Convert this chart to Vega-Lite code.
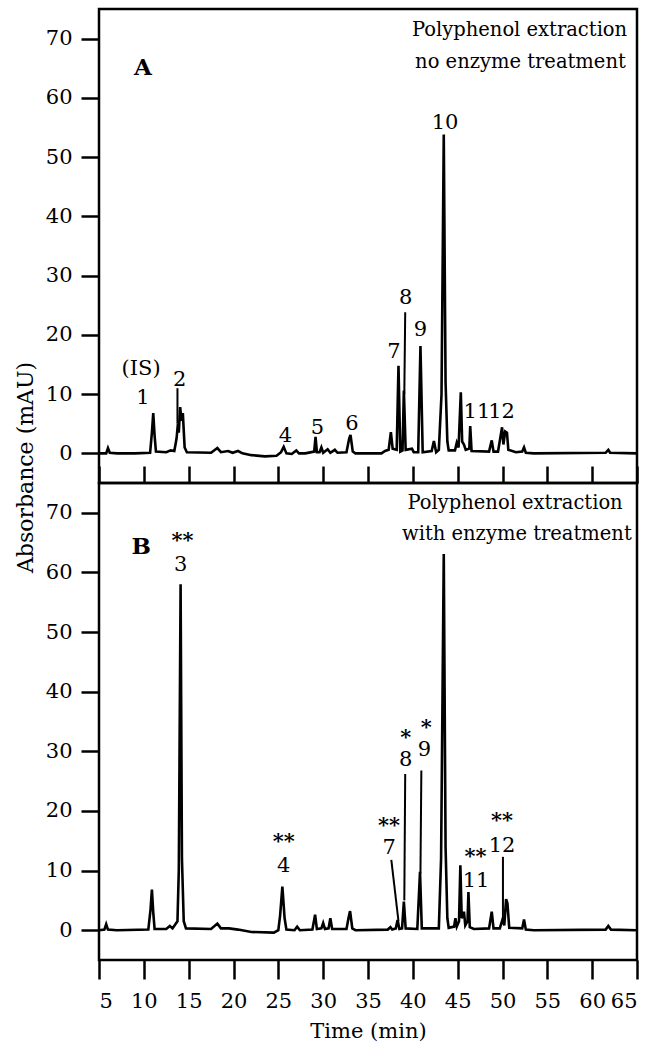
{
  "$schema": "https://vega.github.io/schema/vega-lite/v6.json",
  "padding": {"left": 12, "top": 7, "right": 5, "bottom": 5},
  "bounds": "flush",
  "spacing": 0,
  "config": {
    "font": "DejaVu Serif",
    "view": {"stroke": "black", "strokeWidth": 2.5},
    "text": {"font": "DejaVu Serif"},
    "axis": {"domain": false, "grid": false, "tickColor": "black", "tickWidth": 2.5, "labelColor": "black", "titleColor": "black", "labelFont": "DejaVu Serif", "titleFont": "DejaVu Serif", "labelFontSize": 21, "titleFontWeight": "normal"}
  },
  "datasets": {
    "traceA": [
      {"t":5.0,"v":0.0},{"t":5.8,"v":0.0},{"t":6.0,"v":0.9},{"t":6.2,"v":0.1},{"t":7.0,"v":0.0},{"t":9.0,"v":0.0},
      {"t":10.7,"v":0.1},{"t":10.9,"v":3.5},{"t":11.05,"v":6.8},{"t":11.2,"v":3.0},{"t":11.35,"v":0.3},{"t":12.5,"v":0.2},
      {"t":13.0,"v":0.5},{"t":13.4,"v":0.4},{"t":13.65,"v":2.5},{"t":13.8,"v":5.0},{"t":13.9,"v":3.5},{"t":14.05,"v":7.8},
      {"t":14.2,"v":5.5},{"t":14.35,"v":6.8},{"t":14.55,"v":1.0},{"t":14.8,"v":0.2},{"t":17.5,"v":0.1},{"t":18.2,"v":0.9},
      {"t":18.6,"v":0.2},{"t":19.4,"v":0.4},{"t":19.9,"v":0.1},{"t":20.5,"v":0.4},{"t":21.0,"v":0.0},{"t":22.0,"v":-0.3},
      {"t":23.5,"v":-0.5},{"t":24.8,"v":-0.4},{"t":25.3,"v":0.2},{"t":25.6,"v":1.1},{"t":25.9,"v":0.0},{"t":26.5,"v":-0.1},
      {"t":27.0,"v":0.5},{"t":27.3,"v":0.0},{"t":28.0,"v":0.0},{"t":29.0,"v":0.3},{"t":29.15,"v":2.8},{"t":29.3,"v":0.2},
      {"t":29.6,"v":0.2},{"t":29.8,"v":1.0},{"t":30.0,"v":0.1},{"t":30.5,"v":0.7},{"t":30.8,"v":0.1},{"t":31.3,"v":0.6},
      {"t":31.6,"v":0.1},{"t":32.6,"v":0.2},{"t":32.9,"v":2.5},{"t":33.05,"v":3.1},{"t":33.3,"v":0.3},{"t":33.6,"v":0.0},
      {"t":36.5,"v":0.0},{"t":36.9,"v":0.4},{"t":37.3,"v":0.6},{"t":37.55,"v":3.6},{"t":37.75,"v":0.8},{"t":38.2,"v":0.6},
      {"t":38.4,"v":14.8},{"t":38.6,"v":0.3},{"t":38.85,"v":0.5},{"t":39.0,"v":10.6},{"t":39.2,"v":0.6},{"t":39.9,"v":0.8},
      {"t":40.1,"v":0.2},{"t":40.6,"v":0.2},{"t":40.85,"v":18.1},{"t":41.1,"v":0.2},{"t":42.1,"v":0.4},{"t":42.35,"v":2.1},
      {"t":42.6,"v":0.2},{"t":42.9,"v":0.6},{"t":43.2,"v":10.0},{"t":43.45,"v":53.8},{"t":43.65,"v":12.0},{"t":43.85,"v":2.0},
      {"t":44.0,"v":0.5},{"t":44.7,"v":0.5},{"t":44.9,"v":1.8},{"t":45.1,"v":1.0},{"t":45.35,"v":10.3},{"t":45.5,"v":2.0},
      {"t":45.7,"v":1.5},{"t":45.9,"v":0.6},{"t":46.3,"v":0.8},{"t":46.4,"v":4.6},{"t":46.55,"v":0.4},{"t":48.5,"v":0.3},
      {"t":48.8,"v":2.2},{"t":49.0,"v":0.3},{"t":49.5,"v":0.3},{"t":49.95,"v":4.4},{"t":50.1,"v":1.5},{"t":50.3,"v":3.7},
      {"t":50.5,"v":3.5},{"t":50.65,"v":0.6},{"t":51.5,"v":0.2},{"t":52.2,"v":0.3},{"t":52.4,"v":1.0},{"t":52.6,"v":0.1},
      {"t":53.5,"v":0.0},{"t":61.5,"v":0.1},{"t":61.8,"v":0.6},{"t":62.0,"v":0.1},{"t":65.0,"v":0.0}
    ],
    "traceB": [
      {"t":5.0,"v":0.0},{"t":5.6,"v":0.1},{"t":5.8,"v":1.0},{"t":6.0,"v":0.1},{"t":7.0,"v":0.0},{"t":10.5,"v":0.1},
      {"t":10.75,"v":3.5},{"t":10.9,"v":6.8},{"t":11.05,"v":3.0},{"t":11.2,"v":0.2},{"t":12.5,"v":0.2},{"t":12.9,"v":0.7},
      {"t":13.2,"v":0.3},{"t":13.75,"v":1.5},{"t":13.9,"v":10.0},{"t":14.1,"v":58.0},{"t":14.25,"v":12.0},{"t":14.45,"v":1.5},
      {"t":14.7,"v":0.3},{"t":17.5,"v":0.2},{"t":18.2,"v":1.1},{"t":18.6,"v":0.3},{"t":19.5,"v":0.3},{"t":20.5,"v":0.1},
      {"t":22.0,"v":-0.3},{"t":24.5,"v":-0.4},{"t":25.0,"v":0.0},{"t":25.2,"v":2.5},{"t":25.45,"v":7.3},{"t":25.7,"v":2.0},
      {"t":25.9,"v":0.1},{"t":26.8,"v":0.0},{"t":27.1,"v":0.6},{"t":27.4,"v":0.0},{"t":28.8,"v":0.1},{"t":29.1,"v":2.6},
      {"t":29.3,"v":0.2},{"t":29.8,"v":0.3},{"t":30.0,"v":1.2},{"t":30.2,"v":0.2},{"t":30.6,"v":0.3},{"t":30.8,"v":2.0},
      {"t":31.0,"v":0.2},{"t":32.6,"v":0.2},{"t":32.85,"v":2.2},{"t":33.0,"v":3.2},{"t":33.25,"v":0.3},{"t":33.6,"v":0.0},
      {"t":37.2,"v":0.1},{"t":37.5,"v":0.5},{"t":37.7,"v":0.1},{"t":38.1,"v":0.3},{"t":38.3,"v":1.7},{"t":38.5,"v":0.2},
      {"t":38.8,"v":0.3},{"t":39.0,"v":4.8},{"t":39.2,"v":0.3},{"t":40.5,"v":0.2},{"t":40.8,"v":9.8},{"t":41.0,"v":0.3},
      {"t":42.2,"v":0.3},{"t":42.9,"v":0.3},{"t":43.15,"v":12.0},{"t":43.45,"v":63.1},{"t":43.65,"v":14.0},{"t":43.85,"v":2.0},
      {"t":44.0,"v":0.4},{"t":44.6,"v":0.6},{"t":44.75,"v":2.0},{"t":44.9,"v":0.6},{"t":45.15,"v":1.5},{"t":45.3,"v":10.9},
      {"t":45.45,"v":2.0},{"t":45.7,"v":3.1},{"t":45.85,"v":0.8},{"t":46.1,"v":1.5},{"t":46.2,"v":6.4},{"t":46.35,"v":0.5},
      {"t":46.8,"v":0.2},{"t":48.5,"v":0.3},{"t":48.8,"v":3.1},{"t":49.0,"v":0.3},{"t":49.7,"v":0.3},{"t":50.0,"v":1.8},
      {"t":50.2,"v":0.8},{"t":50.4,"v":5.2},{"t":50.55,"v":4.5},{"t":50.75,"v":0.4},{"t":52.2,"v":0.3},{"t":52.4,"v":1.8},
      {"t":52.6,"v":0.1},{"t":53.5,"v":0.0},{"t":61.5,"v":0.1},{"t":61.8,"v":0.7},{"t":62.1,"v":0.1},{"t":65.0,"v":0.0}
    ],
    "leadA": [
      {"t":13.75,"v":11.0,"t2":13.75,"v2":5.0},
      {"t":39.15,"v":23.8,"t2":39.05,"v2":10.0}
    ],
    "leadB": [
      {"t":37.6,"v":11.8,"t2":38.4,"v2":1.5},
      {"t":39.15,"v":26.2,"t2":39.05,"v2":5.0},
      {"t":40.95,"v":26.8,"t2":40.85,"v2":9.5},
      {"t":50.05,"v":12.3,"t2":50.05,"v2":2.0}
    ],
    "textA": [
      {"t":9.9,"v":65.0,"label":"A","kind":"panel"},
      {"t":9.7,"v":14.2,"label":"(IS)","kind":"num"},
      {"t":9.9,"v":9.3,"label":"1","kind":"num"},
      {"t":14.0,"v":12.3,"label":"2","kind":"num"},
      {"t":25.8,"v":3.0,"label":"4","kind":"num"},
      {"t":29.35,"v":4.2,"label":"5","kind":"num"},
      {"t":33.2,"v":5.0,"label":"6","kind":"num"},
      {"t":37.9,"v":17.1,"label":"7","kind":"num"},
      {"t":39.2,"v":26.2,"label":"8","kind":"num"},
      {"t":40.85,"v":20.8,"label":"9","kind":"num"},
      {"t":43.6,"v":55.7,"label":"10","kind":"num"},
      {"t":47.15,"v":7.0,"label":"11","kind":"num"},
      {"t":49.9,"v":7.0,"label":"12","kind":"num"},
      {"t":51.9,"v":71.4,"label":"Polyphenol extraction","kind":"caption"},
      {"t":52.0,"v":66.0,"label":"no enzyme treatment","kind":"caption"}
    ],
    "textB": [
      {"t":9.7,"v":64.2,"label":"B","kind":"panel"},
      {"t":14.3,"v":65.3,"label":"**","kind":"star"},
      {"t":14.1,"v":61.3,"label":"3","kind":"num"},
      {"t":25.6,"v":14.8,"label":"**","kind":"star"},
      {"t":25.6,"v":10.8,"label":"4","kind":"num"},
      {"t":37.35,"v":17.5,"label":"**","kind":"star"},
      {"t":37.35,"v":13.8,"label":"7","kind":"num"},
      {"t":39.2,"v":32.3,"label":"*","kind":"star"},
      {"t":39.2,"v":28.5,"label":"8","kind":"num"},
      {"t":41.5,"v":33.9,"label":"*","kind":"star"},
      {"t":41.3,"v":30.2,"label":"9","kind":"num"},
      {"t":47.0,"v":12.3,"label":"**","kind":"star"},
      {"t":47.05,"v":8.3,"label":"11","kind":"num"},
      {"t":49.95,"v":18.3,"label":"**","kind":"star"},
      {"t":49.95,"v":14.2,"label":"12","kind":"num"},
      {"t":51.4,"v":71.7,"label":"Polyphenol extraction","kind":"caption"},
      {"t":51.6,"v":66.5,"label":"with enzyme treatment","kind":"caption"}
    ]
  },
  "vconcat": [
    {
      "width": 538,
      "height": 474,
      "encoding": {
        "x": {"field": "t", "type": "quantitative", "scale": {"domain": [5, 65], "nice": false, "zero": false},
              "axis": {"values": [5,10,15,20,25,30,35,40,45,50,55,60,65], "labels": false, "tickSize": -17, "title": null}},
        "y": {"field": "v", "type": "quantitative", "scale": {"domain": [-5, 75], "nice": false, "zero": false},
              "axis": {"values": [0,10,20,30,40,50,60,70], "tickSize": 18, "labelPadding": 9, "title": "Absorbance (mAU)",
                       "titleFontSize": 22, "titleX": -74, "titleY": 458, "titleBaseline": "middle", "titleAngle": 270}}
      },
      "layer": [
        {"data": {"name": "traceA"}, "mark": {"type": "line", "color": "black", "strokeWidth": 2.6, "clip": true}},
        {"data": {"name": "leadA"}, "mark": {"type": "rule", "color": "black", "strokeWidth": 2},
         "encoding": {"x2": {"field": "t2"}, "y2": {"field": "v2"}}},
        {"data": {"name": "textA"}, "transform": [{"filter": "datum.kind == 'num'"}],
         "mark": {"type": "text", "fontSize": 21, "color": "black", "baseline": "middle", "align": "center"},
         "encoding": {"text": {"field": "label"}}},
        {"data": {"name": "textA"}, "transform": [{"filter": "datum.kind == 'panel'"}],
         "mark": {"type": "text", "fontSize": 23, "fontWeight": "bold", "color": "black", "baseline": "middle", "align": "center"},
         "encoding": {"text": {"field": "label"}}},
        {"data": {"name": "textA"}, "transform": [{"filter": "datum.kind == 'caption'"}],
         "mark": {"type": "text", "fontSize": 19.5, "color": "black", "baseline": "middle", "align": "center"},
         "encoding": {"text": {"field": "label"}}}
      ]
    },
    {
      "width": 538,
      "height": 477,
      "encoding": {
        "x": {"field": "t", "type": "quantitative", "scale": {"domain": [5, 65], "nice": false, "zero": false},
              "axis": {"values": [5,10,15,20,25,30,35,40,45,50,55,60,65], "tickSize": 19, "labelPadding": 11,
                       "title": "Time (min)", "titleFontSize": 21, "titlePadding": 9}},
        "y": {"field": "v", "type": "quantitative", "scale": {"domain": [-5, 75], "nice": false, "zero": false},
              "axis": {"values": [0,10,20,30,40,50,60,70], "tickSize": 18, "labelPadding": 9, "title": null}}
      },
      "layer": [
        {"data": {"name": "traceB"}, "mark": {"type": "line", "color": "black", "strokeWidth": 2.6, "clip": true}},
        {"data": {"name": "leadB"}, "mark": {"type": "rule", "color": "black", "strokeWidth": 2},
         "encoding": {"x2": {"field": "t2"}, "y2": {"field": "v2"}}},
        {"data": {"name": "textB"}, "transform": [{"filter": "datum.kind == 'num'"}],
         "mark": {"type": "text", "fontSize": 21, "color": "black", "baseline": "middle", "align": "center"},
         "encoding": {"text": {"field": "label"}}},
        {"data": {"name": "textB"}, "transform": [{"filter": "datum.kind == 'star'"}],
         "mark": {"type": "text", "fontSize": 21, "fontWeight": "bold", "color": "black", "baseline": "middle", "align": "center"},
         "encoding": {"text": {"field": "label"}}},
        {"data": {"name": "textB"}, "transform": [{"filter": "datum.kind == 'panel'"}],
         "mark": {"type": "text", "fontSize": 23, "fontWeight": "bold", "color": "black", "baseline": "middle", "align": "center"},
         "encoding": {"text": {"field": "label"}}},
        {"data": {"name": "textB"}, "transform": [{"filter": "datum.kind == 'caption'"}],
         "mark": {"type": "text", "fontSize": 19.5, "color": "black", "baseline": "middle", "align": "center"},
         "encoding": {"text": {"field": "label"}}}
      ]
    }
  ]
}
